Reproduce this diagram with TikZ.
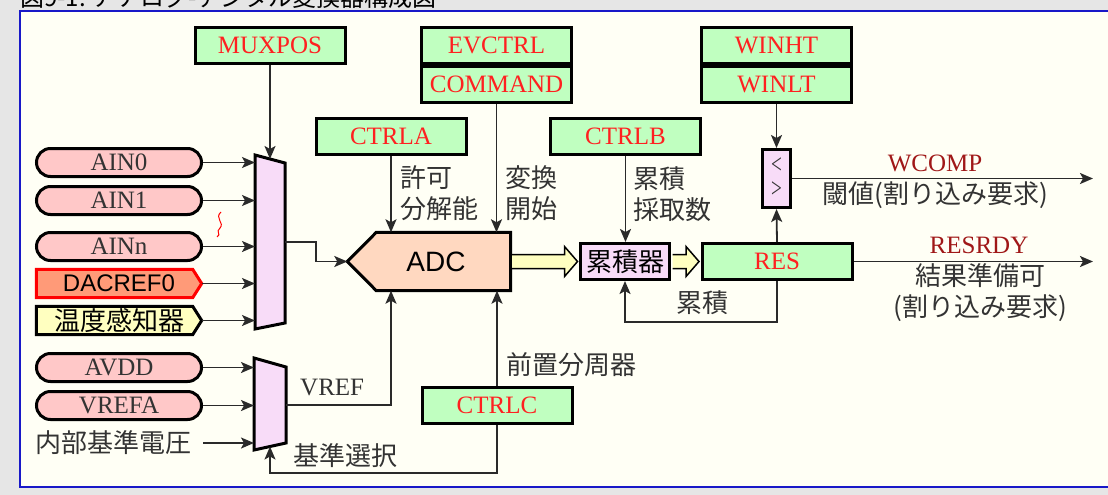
\documentclass[tikz,border=0pt]{standalone}
\usepackage{fontspec}
\setmainfont{Liberation Serif}
\newfontfamily\jp{Noto Sans CJK JP}
\newfontfamily\sansfam{Liberation Sans}
\usetikzlibrary{arrows.meta,calc}

\definecolor{regfill}{HTML}{C0FFC0}
\definecolor{regtext}{HTML}{FF2020}
\definecolor{sigtext}{HTML}{A01818}
\definecolor{pinfill}{HTML}{FFC8C8}
\definecolor{dacfill}{HTML}{FF9A78}
\definecolor{tempfill}{HTML}{FFFFC0}
\definecolor{muxfill}{HTML}{F8DCF8}
\definecolor{adcfill}{HTML}{FFD8C0}
\definecolor{panel}{HTML}{FFFFF5}
\definecolor{outerbg}{HTML}{E6E6E6}
\definecolor{frame}{HTML}{1818C8}
\definecolor{ink}{HTML}{2A2A2A}
\definecolor{lab}{HTML}{333333}

\tikzset{
  reg/.style={draw=black, line width=3pt, fill=regfill, text=regtext,
    minimum width=150pt, minimum height=36pt, inner sep=0pt,
    font=\fontsize{25}{30}\selectfont},
  pin/.style={draw=black, line width=3pt, fill=pinfill, rounded corners=14pt,
    minimum width=165pt, minimum height=28pt, inner sep=0pt, text=lab,
    font=\fontsize{25}{30}\selectfont},
  tagbox/.style={minimum width=165pt, minimum height=28pt, inner sep=0pt},
  blk/.style={draw=black, line width=3pt, fill=muxfill, inner sep=0pt},
  wire/.style={draw=ink, line width=1.8pt},
  arr/.style={wire, -{Stealth[length=13pt,width=11pt,inset=3pt]}},
  jplbl/.style={text=lab, font=\jp\fontsize{26}{31}\selectfont, inner sep=0pt},
  enlbl/.style={text=lab, font=\fontsize{25}{30}\selectfont, inner sep=0pt},
  sig/.style={text=sigtext, font=\fontsize{25}{30}\selectfont, inner sep=0pt},
  fat/.style={draw=black, line width=1.5pt, fill=tempfill, line join=miter},
  chev/.style={text=lab, font=\fontsize{24}{24}\selectfont, inner sep=0pt,
    text height=14pt, text depth=0pt},
}

% wide hollow arrow between two blocks
\newcommand{\fatarrow}[2]{%
  \filldraw[fat] ($(#1.east)+(1.5,-7)$) -- ($(#2.west)+(-14.5,-7)$)
    -- ($(#2.west)+(-14.5,-15)$) -- ($(#2.west)+(-1.5,0)$)
    -- ($(#2.west)+(-14.5,15)$) -- ($(#2.west)+(-14.5,7)$)
    -- ($(#1.east)+(1.5,7)$);}

\begin{document}
\begin{tikzpicture}[x=1pt,y=-1pt]
\useasboundingbox (0,0) rectangle (1108,495);
\clip (0,0) rectangle (1108,495);
\fill[outerbg] (0,0) rectangle (1108,495);
\node[anchor=base west, text=black, font=\jp\fontsize{24}{24}\selectfont, inner sep=0pt]
  (title) at (20,6.5) {図9-1. アナログ-デジタル変換器構成図};
\filldraw[fill=panel, draw=frame, line width=2pt] (20,11) rectangle (1130,487);

% ---- register boxes
\node[reg] (muxpos) at (270,45.5) {MUXPOS};
\node[reg] (evctrl) at (496.5,45.5) {EVCTRL};
\node[reg, anchor=north] (command) at (evctrl.south) {COMMAND};
\node[reg] (winht) at (776.5,45.5) {WINHT};
\node[reg, anchor=north] (winlt) at (winht.south) {WINLT};
\node[reg] (ctrla) at (391,136.5) {CTRLA};
\node[reg] (ctrlb) at (625.5,136.5) {CTRLB};
\node[reg] (res) at (777,261.5) {RES};
\node[reg] (ctrlc) at (497,405) {CTRLC};

% ---- accumulator and window comparator
\node[blk, minimum width=89pt, minimum height=36pt, text=black,
  font=\jp\fontsize{26}{30}\selectfont] (acc) at (625,261.5) {累積器};
\node[blk, minimum width=28pt, minimum height=58pt] (cmp) at (776.5,178.5) {};
\node[chev] (cmplt) at ($(cmp.center)+(0,-12)$) {\scalebox{0.8}[1.15]{<}};
\node[chev] (cmpgt) at ($(cmp.center)+(0,12)$) {\scalebox{0.8}[1.15]{>}};

% ---- ADC block
\node[minimum width=163pt, minimum height=58pt, inner sep=0pt] (adc) at (429,261.5) {};
\filldraw[fill=adcfill, line width=3pt] ($(adc.north west)+(29,0)$) -- (adc.north east)
  -- (adc.south east) -- ($(adc.south west)+(29,0)$) -- (adc.west) -- cycle;
\node[font=\sansfam\fontsize{28}{30}\selectfont, inner sep=0pt] (adctext)
  at ($(adc.center)+(7,0)$) {ADC};

\fatarrow{adc}{acc}
\fatarrow{acc}{res}

% ---- analog inputs
\node[pin] (ain0) at (119,162.5) {AIN0};
\node[pin] (ain1) at (119,200.5) {AIN1};
\node[pin] (ainn) at (119,246.5) {AINn};
\node[tagbox] (dacref) at (119,283.5) {};
\filldraw[fill=dacfill, draw=red, line width=3pt] (dacref.north west)
  -- ($(dacref.north east)+(-9,0)$) -- (dacref.east)
  -- ($(dacref.south east)+(-9,0)$) -- (dacref.south west) -- cycle;
\node[font=\sansfam\fontsize{24}{28}\selectfont, inner sep=0pt] (dactext)
  at (dacref.center) {DACREF0};
\node[tagbox] (temp) at (119,320.5) {};
\filldraw[fill=tempfill, draw=black, line width=3pt] (temp.north west)
  -- ($(temp.north east)+(-9,0)$) -- (temp.east)
  -- ($(temp.south east)+(-9,0)$) -- (temp.south west) -- cycle;
\node[font=\jp\fontsize{26}{30}\selectfont, inner sep=0pt] (temptext)
  at (temp.center) {温度感知器};

\node[pin] (avdd) at (119,367.5) {AVDD};
\node[pin] (vrefa) at (119,405.5) {VREFA};
\node[jplbl, anchor=west] (intref) at (35,443) {内部基準電圧};

% omission mark between AIN1 and AINn
\draw[red, line width=1pt] (221,212) .. controls (214,218) and (225,223) .. (220,228)
  .. controls (215,232) and (222,234) .. (217,237);

% ---- multiplexers
\filldraw[fill=muxfill, line width=3pt] (255,155) -- (285,163) -- (285,323) -- (255,329) -- cycle;
\filldraw[fill=muxfill, line width=3pt] (254,358) -- (286,367) -- (286,443) -- (254,450) -- cycle;
\coordinate (m1in) at (255,0);
\coordinate (m1top) at (270,159);
\coordinate (m1out) at (285,242);
\coordinate (m2in) at (254,0);
\coordinate (m2out) at (286,405);
\coordinate (m2bot) at (270,446.5);
\coordinate (selrow) at (0,473);
\coordinate (wend) at (1093,178.5);
\coordinate (rend) at (1093,261.5);

% ---- connectors
\draw[arr] (muxpos.south) -- (m1top);
\foreach \n in {ain0,ain1,ainn,dacref,temp}
  \draw[arr] (\n.east) -- (\n.east -| m1in);
\foreach \n in {avdd,vrefa}
  \draw[arr] (\n.east) -- (\n.east -| m2in);
\draw[arr] (ain0.east |- intref.east) -- (intref.east -| m2in);
\draw[arr] (m1out) -- ++(31,0) |- (adc.west);
\draw[arr] (m2out) -| (ctrla.south |- adc.south);
\draw[arr] (ctrla.south) -- (ctrla.south |- adc.north);
\draw[arr] (command.south) -- (command.south |- adc.north);
\draw[arr] (ctrlc.north) -- (ctrlc.north |- adc.south);
\draw[arr] (ctrlc.south) -- (ctrlc.south |- selrow) -| (m2bot);
\draw[arr] (ctrlb.south) -- (ctrlb.south |- acc.north);
\draw[arr] (res.south) -- ++(0,41) -| (acc.south);
\draw[arr] (winlt.south) -- (cmp.north);
\draw[arr] (res.north) -- (cmp.south);
\draw[arr] (cmp.east) -- (wend);
\draw[arr] (res.east) -- (rend);

% ---- labels
\node[jplbl, anchor=west, align=left] (enlab) at (400,193) {許可\\分解能};
\node[jplbl, anchor=west, align=left] (cmdlab) at (505,193) {変換\\開始};
\node[jplbl, anchor=west, align=left] (acclab) at (633,194) {累積\\採取数};
\node[jplbl] (fblab) at (702,303) {累積};
\node[jplbl, anchor=west] (pslab) at (506,365) {前置分周器};
\node[jplbl, anchor=west] (sellab) at (293,456) {基準選択};
\node[enlbl, anchor=west] (vreflab) at (300,388) {VREF};
\node[sig] (wcomp) at (935,163) {WCOMP};
\node[jplbl] (wdesc) at (935.5,195) {閾値(割り込み要求)};
\node[sig] (resrdy) at (979,245) {RESRDY};
\node[jplbl, align=center] (rdesc) at (980,292.5) {結果準備可\\(割り込み要求)};
\end{tikzpicture}
\end{document}
